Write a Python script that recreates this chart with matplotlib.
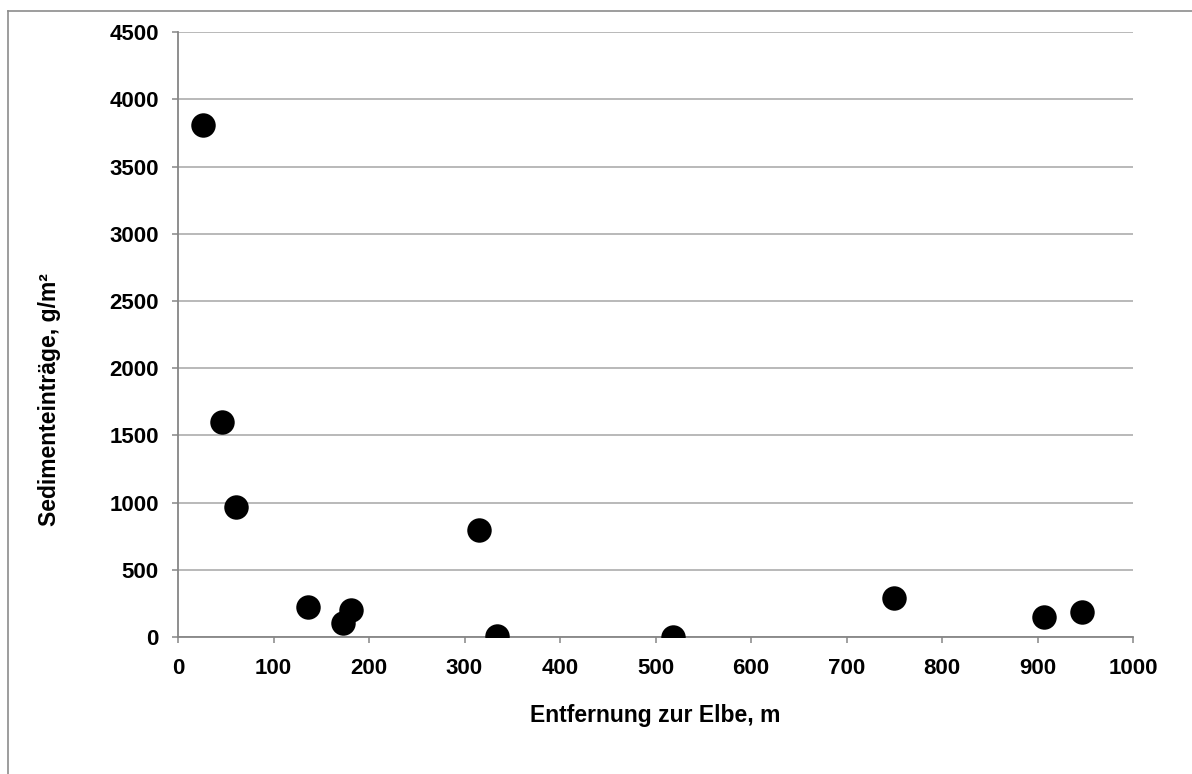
import matplotlib.pyplot as plt
from matplotlib.lines import Line2D

# ----------------------------
# Data
# ----------------------------
distance_m = [26, 46, 61, 136, 173, 181, 315, 334, 518, 750, 907, 947]
sediment_g_m2 = [3810, 1600, 970, 222, 104, 200, 794, 5, 0, 291, 147, 186]

x_ticks = [0, 100, 200, 300, 400, 500, 600, 700, 800, 900, 1000]
y_ticks = [0, 500, 1000, 1500, 2000, 2500, 3000, 3500, 4000, 4500]

plt.rcParams['font.family'] = ['Liberation Sans', 'DejaVu Sans']

W, H = 1192, 774
fig = plt.figure(figsize=(W / 100, H / 100), dpi=100)
ax = fig.add_axes([178 / W, 1 - 637 / H, (1133 - 178) / W, (637 - 32.3) / H])

ax.scatter(distance_m, sediment_g_m2, s=310, color='black', zorder=3, linewidths=0)

ax.set_xlim(0, 1000)
ax.set_ylim(0, 4500)
ax.set_xticks(x_ticks)
ax.set_yticks(y_ticks)

grid_col = '#a6a6a6'
axis_col = '#868686'
ax.yaxis.grid(True, color=grid_col, linewidth=1.1)
ax.set_axisbelow(True)
for side in ['top', 'right']:
    ax.spines[side].set_visible(False)
for side in ['left', 'bottom']:
    ax.spines[side].set_color(axis_col)
    ax.spines[side].set_linewidth(1.3)

ax.tick_params(axis='both', direction='out', length=4.3, width=1.1, color=axis_col,
               labelsize=16)
ax.tick_params(axis='x', pad=10.5)
ax.tick_params(axis='y', pad=9.5)
for lbl in ax.get_xticklabels() + ax.get_yticklabels():
    lbl.set_fontweight('bold')

ax.set_xlabel('Entfernung zur Elbe, m', fontsize=16.5, fontweight='bold', labelpad=18)
ax.set_ylabel('Sedimenteinträge, g/m²', fontsize=16.5, fontweight='bold')
# Excel centres the y title on the whole chart area, not the plot area
ax.yaxis.set_label_coords(-0.123, 0.392)

# outer chart-area border (top and left edges visible)
fig.add_artist(Line2D([8 / W, 1.0], [1 - 11 / H, 1 - 11 / H], transform=fig.transFigure,
                      color='#8c8c8c', linewidth=1.2))
fig.add_artist(Line2D([8 / W, 8 / W], [0.0, 1 - 11 / H], transform=fig.transFigure,
                      color='#8c8c8c', linewidth=1.2))

fig.savefig('out.png', dpi=100)
